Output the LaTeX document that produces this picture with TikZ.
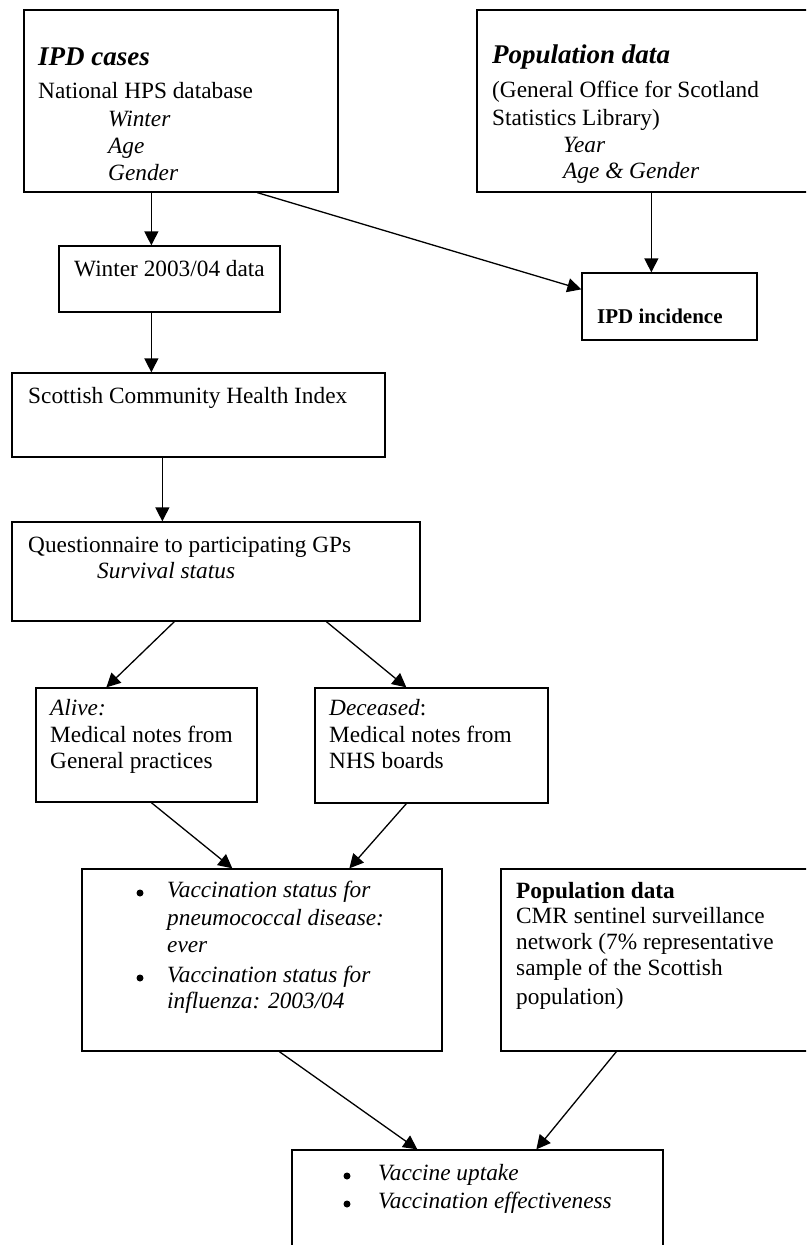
\documentclass[tikz,border=0pt]{standalone}
\usepackage{fontspec}
\setmainfont{Liberation Serif}
\usetikzlibrary{arrows.meta,calc}
\tikzset{
  box/.style={draw, line width=1.3pt, rectangle, inner sep=0pt},
  txt/.style={inner sep=0pt, anchor=base west, font=\fontsize{23.3}{26}\selectfont},
  head/.style={txt, font=\fontsize{27}{30}\selectfont\bfseries\itshape},
  bul/.style={circle, fill, inner sep=0pt, minimum size=7pt},
  arr/.style={line width=1.3pt, -{Triangle[length=14pt,width=14pt]}},
}
\newcommand{\mybox}[5]{\node[box, minimum width={#4-#2}, minimum height={#5-#3}] (#1) at ({(#2+#4)/2},{(#3+#5)/2}) {};}
\begin{document}
\begin{tikzpicture}[x=1pt,y=-1pt]
\useasboundingbox (0,0) rectangle (806,1245);
\clip (0,0) rectangle (806,1245);
% boxes
\mybox{ipd}{24}{10}{338}{192}
\mybox{popa}{477}{10}{830}{192}
\mybox{win}{59}{246}{280}{312}
\mybox{inc}{582}{273}{757}{340}
\mybox{sch}{12}{373}{385}{457}
\mybox{que}{12}{522}{420}{621}
\mybox{alive}{36}{688}{257}{802}
\mybox{dec}{315}{688}{548}{803}
\mybox{vac}{82}{869}{442}{1051}
\mybox{popb}{501}{869}{830}{1051}
\mybox{res}{292}{1150}{663}{1270}
% texts
\node[head] (t1) at (38,65) {IPD cases};
\node[txt] (t2) at (38,98) {National HPS database};
\node[txt] (t3) at (108,126) {\itshape Winter};
\node[txt] (t4) at (108,153) {\itshape Age};
\node[txt] (t5) at (108,180) {\itshape Gender};
\node[head] (p1) at (492,63) {Population data};
\node[txt] (p2) at (492,97) {(General Office for Scotland};
\node[txt] (p3) at (492,125) {Statistics Library)};
\node[txt] (p4) at (563,152) {\itshape Year};
\node[txt] (p5) at (563,178) {\itshape Age \& Gender};
\node[txt] (w1) at (74,276) {Winter 2003/04 data};
\node[txt, font=\fontsize{21}{24}\selectfont\bfseries] (i1) at (597,323) {IPD incidence};
\node[txt] (s1) at (28,403) {Scottish Community Health Index};
\node[txt] (q1) at (28,552) {Questionnaire to participating GPs};
\node[txt] (q2) at (97,578) {\itshape Survival status};
\node[txt] (a1) at (50,715) {\itshape Alive:};
\node[txt] (a2) at (50,742) {Medical notes from};
\node[txt] (a3) at (50,768) {General practices};
\node[txt] (d1) at (329,715) {\textit{Deceased}:};
\node[txt] (d2) at (329,742) {Medical notes from};
\node[txt] (d3) at (329,768) {NHS boards};
\node[bul] (vb1) at (140,893) {};
\node[txt] (v1) at (167,897) {\itshape Vaccination status for};
\node[txt] (v2) at (167,925) {\itshape pneumococcal disease:};
\node[txt] (v3) at (167,952) {\itshape ever};
\node[bul] (vb2) at (140,978) {};
\node[txt] (v4) at (167,982) {\itshape Vaccination status for};
\node[txt] (v5) at (167,1008) {\itshape influenza: 2003/04};
\node[txt, font=\fontsize{23.3}{26}\selectfont\bfseries] (c1) at (516,898) {Population data};
\node[txt] (c2) at (516,923) {CMR sentinel surveillance};
\node[txt] (c3) at (516,949) {network (7\% representative};
\node[txt] (c4) at (516,975) {sample of the Scottish};
\node[txt] (c5) at (516,1004) {population)};
\node[bul] (rb1) at (347,1176) {};
\node[txt] (r1) at (378,1180) {\itshape Vaccine uptake};
\node[bul] (rb2) at (347,1204) {};
\node[txt] (r2) at (378,1208) {\itshape Vaccination effectiveness};
% connectors
\draw[arr] ($(ipd.south west)+(128,0)$) -- ($(win.north west)+(93,0)$);
\draw[arr] ($(ipd.south west)+(234,0)$) -- ($(inc.north west)+(0,17)$);
\draw[arr] ($(popa.south west)+(175,0)$) -- ($(inc.north west)+(70,0)$);
\draw[arr] ($(win.south west)+(93,0)$) -- ($(sch.north west)+(140,0)$);
\draw[arr] ($(sch.south west)+(151,0)$) -- ($(que.north west)+(151,0)$);
\draw[arr] ($(que.south west)+(163,0)$) -- ($(alive.north west)+(71,0)$);
\draw[arr] ($(que.south west)+(315,0)$) -- ($(dec.north west)+(92,0)$);
\draw[arr] ($(alive.south west)+(116,0)$) -- ($(vac.north west)+(151,0)$);
\draw[arr] ($(dec.south west)+(92,0)$) -- ($(vac.north west)+(268,0)$);
\draw[arr] ($(vac.south west)+(198,0)$) -- ($(res.north west)+(126,0)$);
\draw[arr] ($(popb.south west)+(116,0)$) -- ($(res.north west)+(245,0)$);
\end{tikzpicture}
\end{document}
